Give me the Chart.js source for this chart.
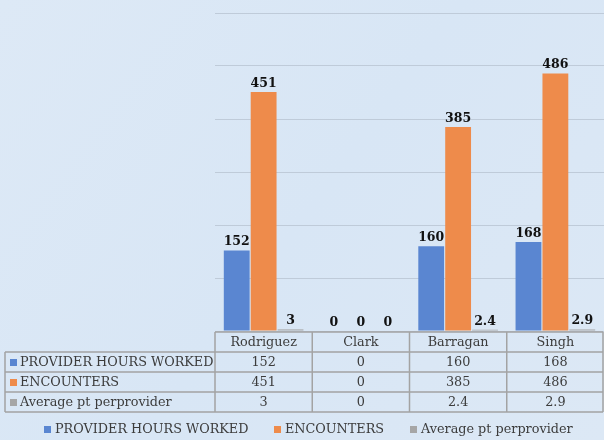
<!DOCTYPE html>
<html>
<head>
<meta charset="utf-8">
<script src="https://cdn.jsdelivr.net/npm/chart.js@4/dist/chart.umd.min.js"></script>
<style>
  html, body { margin: 0; padding: 0; background: #dbe8f6; }
  #wrap { width: 604px; height: 440px; position: relative; }
</style>
</head>
<body>
<div id="wrap"><canvas id="providerChart" width="604" height="440"></canvas></div>
<script>
const categories = ['Rodriguez', 'Clark', 'Barragan', 'Singh'];
const hoursWorked = [152, 0, 160, 168];
const encounters = [451, 0, 385, 486];
const avgPerProvider = [3, 0, 2.4, 2.9];
const seriesNames = ['PROVIDER HOURS WORKED', 'ENCOUNTERS', 'Average pt perprovider'];
const seriesColors = ['#5a86d1', '#ee8b4b', '#a6a6a6'];

const serif = '"DejaVu Serif", "Liberation Serif", serif';

// light blue paper look
const backgroundPlugin = {
    id: 'paper',
    beforeDraw(chart) {
        const { ctx, width, height } = chart;
        ctx.save();
        const g = ctx.createLinearGradient(0, 0, width, height);
        g.addColorStop(0, '#dde9f6');
        g.addColorStop(0.5, '#d8e6f5');
        g.addColorStop(1, '#dce8f5');
        ctx.fillStyle = g;
        ctx.fillRect(0, 0, width, height);
        ctx.restore();
    }
};

// bold value labels above the bars
const valueLabels = {
    id: 'valueLabels',
    afterDatasetsDraw(chart) {
        const ctx = chart.ctx;
        ctx.save();
        ctx.font = 'bold 12.5px ' + serif;
        ctx.fillStyle = '#111';
        ctx.textAlign = 'center';
        ctx.textBaseline = 'bottom';
        chart.data.datasets.forEach((ds, i) => {
            const meta = chart.getDatasetMeta(i);
            meta.data.forEach((bar, j) => {
                ctx.fillText(String(ds.data[j]), bar.x, bar.y - 2);
            });
        });
        ctx.restore();
    }
};

// data table + legend under the plot
const dataTable = {
    id: 'dataTable',
    afterDraw(chart) {
        const { ctx, chartArea } = chart;
        const xs = chart.scales.x;
        const left = 5, labelRight = chartArea.left, right = chartArea.right - 1;
        const top = chartArea.bottom + 1;
        const rowH = 20;
        const colW = (chartArea.right - chartArea.left) / categories.length;

        ctx.save();
        ctx.strokeStyle = '#a3a3a3';
        ctx.lineWidth = 1.5;
        ctx.beginPath();
        // horizontal lines
        ctx.moveTo(labelRight, top); ctx.lineTo(right, top);
        for (let r = 1; r <= 4; r++) {
            const y = top + r * rowH;
            ctx.moveTo(left, y); ctx.lineTo(right, y);
        }
        // vertical lines
        ctx.moveTo(left, top + rowH); ctx.lineTo(left, top + 4 * rowH);
        for (let c = 0; c <= categories.length; c++) {
            const x = c === categories.length ? right : labelRight + c * colW;
            ctx.moveTo(x, top); ctx.lineTo(x, top + 4 * rowH);
        }
        ctx.stroke();

        ctx.font = '12.8px ' + serif;
        ctx.fillStyle = '#3c3c3c';
        ctx.textBaseline = 'middle';
        ctx.textAlign = 'center';
        categories.forEach((cat, j) => {
            ctx.fillText(cat, xs.getPixelForValue(j), top + rowH / 2 + 1);
        });

        const rows = [hoursWorked, encounters, avgPerProvider];
        rows.forEach((vals, r) => {
            const yMid = top + rowH * (r + 1.5) + 1;
            ctx.fillStyle = seriesColors[r];
            ctx.fillRect(10, yMid - 4, 7, 7);
            ctx.fillStyle = '#3c3c3c';
            ctx.textAlign = 'left';
            ctx.fillText(seriesNames[r], 20, yMid);
            ctx.textAlign = 'center';
            vals.forEach((v, j) => ctx.fillText(String(v), xs.getPixelForValue(j), yMid));
        });

        // legend
        const legendY = 430;
        const legendX = [44, 274, 410];
        seriesNames.forEach((name, i) => {
            ctx.fillStyle = seriesColors[i];
            ctx.fillRect(legendX[i], legendY - 4, 7, 7);
            ctx.fillStyle = '#3c3c3c';
            ctx.textAlign = 'left';
            ctx.fillText(name, legendX[i] + 11, legendY);
        });
        ctx.restore();
    }
};

new Chart(document.getElementById('providerChart').getContext('2d'), {
    type: 'bar',
    data: {
        labels: categories,
        datasets: seriesNames.map((name, i) => ({
            label: name,
            data: [hoursWorked, encounters, avgPerProvider][i],
            backgroundColor: seriesColors[i],
            categoryPercentage: 0.83,
            barPercentage: 0.96
        }))
    },
    options: {
        responsive: false,
        animation: false,
        layout: { padding: { left: 215, right: 0, top: 13, bottom: 109 } },
        plugins: {
            legend: { display: false },
            tooltip: { enabled: false }
        },
        scales: {
            x: { display: false },
            y: {
                min: 0,
                max: 600,
                ticks: { display: false, stepSize: 100 },
                grid: { color: '#bfcbd9', lineWidth: 1, drawTicks: false },
                border: { display: false },
                afterFit: s => { s.width = 0; }
            }
        }
    },
    plugins: [backgroundPlugin, valueLabels, dataTable]
});
</script>
</body>
</html>
